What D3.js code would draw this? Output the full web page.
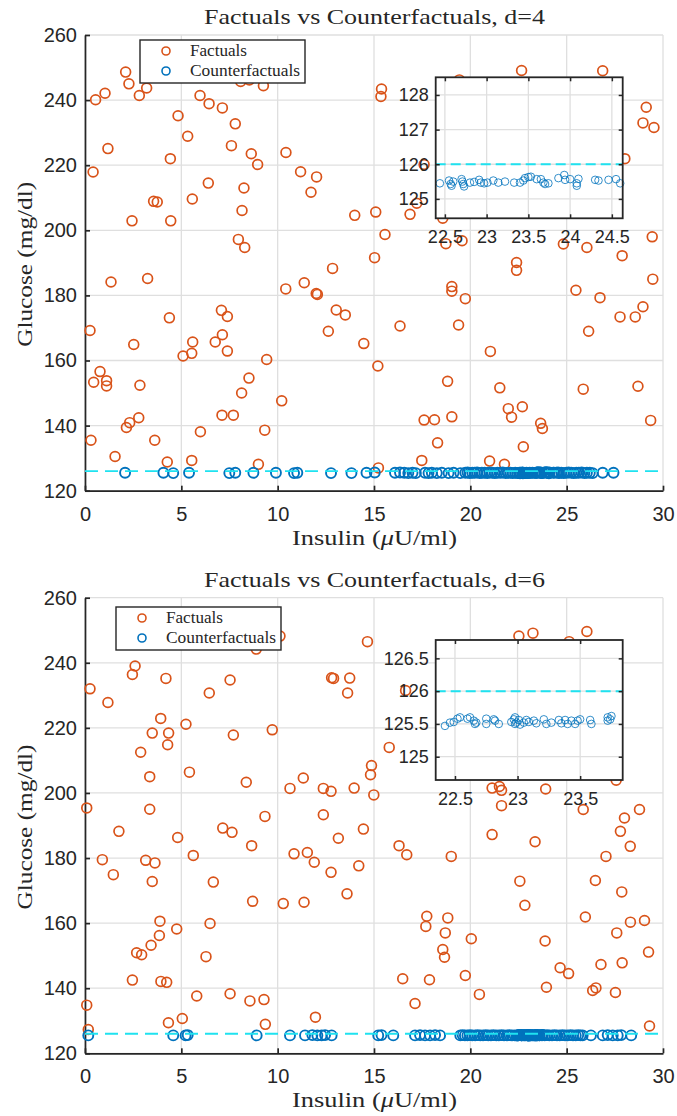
<!DOCTYPE html>
<html lang="en">
<head>
<meta charset="utf-8">
<title>Factuals vs Counterfactuals</title>
<script src="https://d3js.org/d3.v7.min.js"></script>
<style>
  body { margin: 0; background: #fff; }
  text { fill: #262626; }
</style>
</head>
<body>
<script>
// ---- data (x = insulin, y = glucose) ----

// d = 4
const factuals4 = [
  [2.11,248.6],[2.28,245.0],[0.55,240.1],[1.04,242.1],[2.82,241.4],[3.2,243.7],[5.97,241.4],[6.44,238.9],
  [7.13,237.6],[4.83,235.2],[7.80,232.7],[5.33,228.9],[7.6,226.0],[8.63,223.5],[8.96,220.2],[10.43,223.9],
  [1.19,225.1],[0.42,217.9],[4.43,222.0],[11.19,218.0],[12.02,216.4],[11.73,211.7],[6.4,214.5],[8.25,213.0],
  [3.56,208.9],[3.75,208.7],[5.57,209.6],[2.44,202.9],[4.45,202.9],[8.15,206.1],[7.96,197.2],[8.29,194.7],
  [12.85,188.3],[8.08,245.7],[8.53,246.2],[9.26,244.4],
  [1.35,184.1],[3.25,185.2],[0.26,169.2],[4.38,173.1],[2.53,164.9],[5.09,161.4],[5.54,162.2],[5.59,165.7],
  [6.76,165.7],[7.08,175.4],[7.39,173.5],[7.13,167.9],[7.39,162.9],[0.45,153.3],[0.78,156.6],[1.12,153.8],
  [1.12,152.2],[2.85,152.4],[8.51,154.6],[8.13,150.0],[9.43,160.3],[10.21,147.6],[0.31,135.5],[2.15,139.4],
  [2.32,140.9],[2.79,142.4],[3.62,135.5],[1.56,130.5],[4.27,128.8],[5.54,129.3],[5.99,138.1],[7.11,143.2],
  [7.7,143.2],[9.33,138.6],[9.0,128.1],[10.42,182.0],[11.38,183.9],[12.0,180.6],[12.06,180.3],[12.63,169.0],
  [13.04,175.5],[13.51,174.0],
  [22.66,249.1],[26.87,249.0],[19.43,246.2],[15.39,243.4],[15.36,241.1],[29.13,237.8],[28.96,233.0],[29.53,231.6],
  [28.02,222.0],[17.6,220.2],[14.0,204.6],[15.09,205.6],[16.87,204.9],[17.22,208.3],[18.57,203.7],[15.57,198.7],
  [18.73,195.9],[19.57,196.8],[24.83,195.8],[26.05,194.7],[27.88,192.2],[29.44,198.0],[15.03,191.6],[22.4,190.1],
  [22.4,187.7],[29.47,185.0],
  [19.04,182.7],[19.04,181.3],[19.74,179.0],[25.48,181.6],[26.73,179.3],[16.35,170.6],[19.39,170.9],[27.77,173.4],
  [28.56,173.4],[28.96,176.5],[26.14,169.0],[14.47,165.2],[21.04,162.8],[15.2,158.3],[18.82,153.6],[21.53,151.6],
  [25.86,151.2],[28.7,152.1],[21.97,145.2],[22.7,145.8],[22.14,142.6],[17.6,141.7],[18.14,141.8],[19.04,142.7],
  [23.65,140.7],[23.74,139.1],[29.36,141.6],[18.3,134.7],[22.75,133.5],[17.48,129.3],[15.23,127.0],[21.0,129.1],
  [21.77,128.1]
];

const counterfactuals4 = [
  [2.08,125.5],[4.07,125.5],[4.58,125.4],[5.4,125.5],[7.49,125.4],[7.8,125.5],[8.74,125.5],[9.91,125.5],
  [10.85,125.4],[11.02,125.5],[12.77,125.4],[13.83,125.4],[14.61,125.5],[15.04,125.6],[16.09,125.5],[16.35,125.6],
  [16.57,125.5],[16.78,125.4],[17.0,125.5],[17.17,125.4],[17.65,125.5],[17.83,125.4],[18.0,125.5],[18.26,125.4],
  [18.52,125.5],[18.87,125.4],[19.13,125.5],[19.48,125.4],[19.74,125.5],[19.86,125.6],[19.97,125.4],[20.1,125.5],
  [20.22,125.5],[20.35,125.6],[20.49,125.4],[20.6,125.5],[20.74,125.5],[20.88,125.4],[21.0,125.6],[21.13,125.5],
  [21.27,125.4],[21.4,125.5],[21.56,125.5],[21.68,125.6],[21.83,125.4],[21.95,125.5],[22.08,125.5],[22.2,125.4],
  [22.33,125.5],
  [22.44,125.45],[22.55,125.53],[22.57,125.43],[22.6,125.5],[22.58,125.38],[22.7,125.57],[22.71,125.5],[22.72,125.43],
  [22.73,125.36],[22.8,125.47],[22.85,125.49],[22.91,125.55],[22.93,125.47],[22.97,125.45],[23.01,125.47],[23.08,125.53],
  [23.14,125.47],[23.22,125.5],[23.33,125.47],[23.4,125.47],[23.44,125.53],[23.46,125.6],[23.5,125.63],[23.53,125.64],
  [23.6,125.57],[23.65,125.57],[23.68,125.47],[23.7,125.43],[23.74,125.45],[23.86,125.6],[23.93,125.69],[23.94,125.55],
  [24.0,125.57],[24.08,125.45],[24.1,125.58],[24.08,125.38],[24.3,125.55],[24.34,125.53],[24.46,125.55],[24.55,125.57],
  [24.6,125.45],
  [24.72,125.5],[24.85,125.4],[24.98,125.5],[25.1,125.6],[25.24,125.5],[25.37,125.4],[25.5,125.5],[25.63,125.5],
  [25.78,125.6],[25.92,125.4],[26.05,125.5],[26.2,125.5],[26.35,125.4],[26.87,125.5],[27.43,125.5]
];

// d = 6
const factuals6 = [
  [0.09,195.4],[0.26,232.0],[1.19,227.8],[2.46,236.4],[2.6,239.0],[4.2,235.2],[6.45,230.7],[7.53,234.7],
  [3.93,222.9],[3.49,218.4],[4.34,218.4],[4.29,214.8],[5.24,221.1],[7.7,217.8],[9.72,219.4],[2.89,212.5],
  [3.36,205.0],[5.42,206.4],[8.37,203.3],[10.64,201.4],[11.33,204.6],[12.37,201.4],[12.77,200.5],[12.37,193.3],
  [3.36,195.0],[9.34,192.8],[1.76,188.2],[7.15,189.2],[7.63,187.9],[4.81,186.3],[8.89,244.2],[10.12,248.2],
  [12.8,235.4],[12.9,235.2],
  [8.65,183.8],[0.9,179.5],[3.15,179.3],[3.63,178.5],[5.62,180.8],[1.47,174.9],[3.49,172.8],[6.66,172.6],
  [8.7,166.7],[10.29,166.0],[11.37,166.4],[10.85,181.3],[11.54,181.7],[11.9,178.7],[12.77,175.6],[13.15,186.1],
  [3.89,160.6],[3.86,156.2],[3.43,153.2],[2.68,150.9],[2.94,150.3],[4.76,158.2],[6.49,159.9],[6.28,149.7],
  [2.46,142.5],[3.94,142.1],[4.24,141.8],[0.09,134.8],[5.8,137.6],[7.53,138.3],[8.56,136.1],[9.29,136.5],
  [4.33,129.4],[5.05,130.7],[9.36,128.9],[11.96,131.1],[0.17,127.3],
  [14.66,246.5],[22.52,248.2],[23.25,249.1],[26.05,249.6],[25.13,246.5],[13.74,235.3],[13.63,230.7],[16.64,231.5],
  [15.79,214.0],[14.87,208.4],[14.82,205.6],[13.97,201.5],[14.99,199.4],[21.13,201.5],[21.51,202.0],[21.62,200.8],
  [21.62,196.1],[23.91,201.2],[25.86,194.9],[27.57,203.9],[28.0,192.3],[28.78,194.9],[27.79,188.2],[14.45,188.9],
  [21.13,187.2],[23.36,185.0],
  [28.3,183.6],[27.04,180.5],[16.3,183.8],[16.7,181.0],[19.01,180.5],[14.21,177.6],[13.6,169.0],[22.57,172.9],
  [26.49,173.1],[27.86,169.6],[22.83,165.5],[17.74,162.1],[17.69,159.0],[18.83,161.6],[18.7,157.0],[18.57,151.9],
  [18.66,149.5],[20.05,155.2],[25.97,161.9],[28.31,160.3],[29.04,160.8],[27.6,157.0],[29.25,151.1],[23.88,154.5],
  [26.78,147.3],[27.88,147.8],[16.49,142.9],[17.88,142.6],[19.74,143.9],[24.66,146.3],[25.1,144.5],[20.47,138.1],
  [23.95,140.3],[17.13,135.3],[26.35,139.3],[26.52,140.1],[27.53,138.7],[29.3,128.4]
];

const counterfactuals6 = [
  [0.17,125.5],[4.58,125.5],[5.22,125.5],[5.33,125.6],[8.91,125.5],[10.64,125.5],[11.42,125.5],[11.8,125.6],
  [12.06,125.5],[12.28,125.5],[12.46,125.6],[12.8,125.5],[15.22,125.5],[15.39,125.6],[16.0,125.5],[17.13,125.5],
  [17.39,125.6],[17.65,125.5],[17.91,125.5],[18.17,125.6],[18.43,125.5],[19.48,125.5],[19.6,125.6],[19.72,125.5],
  [19.85,125.5],[19.98,125.6],[20.1,125.5],[20.25,125.5],[20.38,125.6],[20.52,125.5],[20.66,125.5],[20.8,125.6],
  [20.93,125.5],[21.07,125.5],[21.2,125.6],[21.35,125.5],[21.48,125.5],[21.62,125.6],[21.75,125.5],[21.9,125.5],
  [22.03,125.6],[22.17,125.5],[22.3,125.5],
  [22.42,125.47],[22.46,125.52],[22.49,125.53],[22.52,125.58],[22.54,125.6],[22.6,125.58],[22.62,125.6],[22.65,125.55],
  [22.67,125.52],[22.66,125.5],[22.75,125.58],[22.75,125.5],[22.81,125.57],[22.82,125.55],[22.85,125.5],[22.95,125.53],
  [22.97,125.57],[22.98,125.6],[22.98,125.5],[22.99,125.52],[23.01,125.56],[23.02,125.49],[23.05,125.52],[23.07,125.56],
  [23.09,125.53],[23.13,125.55],[23.15,125.51],[23.21,125.57],[23.23,125.5],[23.27,125.52],[23.33,125.56],[23.35,125.51],
  [23.38,125.56],[23.4,125.5],[23.43,125.55],[23.46,125.5],[23.48,125.55],[23.5,125.57],[23.58,125.56],[23.59,125.5],
  [23.72,125.55],[23.72,125.6],[23.75,125.62],[23.74,125.57],
  [23.86,125.5],[23.98,125.6],[24.1,125.5],[24.24,125.5],[24.37,125.6],[24.5,125.5],[24.64,125.5],[24.78,125.6],
  [24.92,125.5],[25.05,125.5],[25.2,125.6],[25.33,125.5],[25.47,125.5],[25.6,125.6],[25.72,125.5],[25.83,125.5],
  [26.26,125.5],[26.87,125.5],[27.13,125.6],[27.39,125.5],[27.65,125.5],[27.83,125.6],[28.35,125.5]
];

const xTicks = [0, 5, 10, 15, 20, 25, 30];
const yTicks = [120, 140, 160, 180, 200, 220, 240, 260];
const insetXTicks4 = [22.5, 23, 23.5, 24, 24.5];
const insetYTicks4 = [125, 126, 127, 128];
const insetXTicks6 = [22.5, 23, 23.5];
const insetYTicks6 = [125, 125.5, 126, 126.5];
const refGlucose = 126;

const orange = "#D95319", blue = "#0072BD", cyan = "#1fe2f0", grid = "#dfdfdf", ink = "#262626";
const serif = "'Liberation Serif', 'Times New Roman', serif";
const sans = "'Liberation Sans', Arial, Helvetica, sans-serif";

const svg = d3.select("body").append("svg")
    .attr("width", 677)
    .attr("height", 1116);

function drawPanel(p) {
    const x = d3.scaleLinear().domain([0, 30]).range([85, 663]);
    const y = d3.scaleLinear().domain([120, 260]).range([p.bottom, p.top]);
    const g = svg.append("g");

    // grid
    g.selectAll(".gx").data(xTicks).join("line")
        .attr("x1", d => x(d)).attr("x2", d => x(d))
        .attr("y1", p.top).attr("y2", p.bottom)
        .attr("stroke", grid).attr("stroke-width", 1.3);
    g.selectAll(".gy").data(yTicks).join("line")
        .attr("x1", 85).attr("x2", 663)
        .attr("y1", d => y(d)).attr("y2", d => y(d))
        .attr("stroke", grid).attr("stroke-width", 1.3);

    // axes, ticks point inward like matlab
    const xAxis = g.append("g").attr("transform", "translate(0," + p.bottom + ")")
        .call(d3.axisBottom(x).tickValues(xTicks).tickSize(-5).tickSizeOuter(0).tickPadding(16));
    const yAxis = g.append("g").attr("transform", "translate(85,0)")
        .call(d3.axisLeft(y).tickValues(yTicks).tickSize(-5).tickSizeOuter(0).tickPadding(8));
    [xAxis, yAxis].forEach(a => {
        a.selectAll("path, line").attr("stroke", ink).attr("stroke-width", 1.7);
        a.selectAll("text").style("font-family", sans).style("font-size", "20px").attr("fill", ink);
    });

    // points
    g.append("g").selectAll("circle").data(p.factuals).join("circle")
        .attr("cx", d => x(d[0])).attr("cy", d => y(d[1])).attr("r", 4.9)
        .attr("fill", "none").attr("stroke", orange).attr("stroke-width", 1.7);
    g.append("g").selectAll("circle").data(p.counterfactuals).join("circle")
        .attr("cx", d => x(d[0])).attr("cy", d => y(d[1])).attr("r", 5)
        .attr("fill", "none").attr("stroke", blue).attr("stroke-width", 1.9);

    g.append("line")
        .attr("x1", x(0)).attr("x2", x(30))
        .attr("y1", y(refGlucose)).attr("y2", y(refGlucose))
        .attr("stroke", cyan).attr("stroke-width", 1.8).attr("stroke-dasharray", "13,7");

    // labels
    g.append("text")
        .attr("x", 374.5).attr("y", p.top - 11)
        .attr("text-anchor", "middle")
        .attr("textLength", 341).attr("lengthAdjust", "spacingAndGlyphs")
        .style("font-family", serif).style("font-size", "22px")
        .text(p.title);

    const xl = g.append("text")
        .attr("x", 374.5).attr("y", p.bottom + 54)
        .attr("text-anchor", "middle")
        .attr("textLength", 165).attr("lengthAdjust", "spacingAndGlyphs")
        .style("font-family", serif).style("font-size", "21px");
    xl.append("tspan").text("Insulin (");
    xl.append("tspan").style("font-style", "italic").text("\u03bc");
    xl.append("tspan").text("U/ml)");

    g.append("text")
        .attr("transform", "translate(32," + ((p.top + p.bottom) / 2 + 1.5) + ") rotate(-90)")
        .attr("text-anchor", "middle")
        .attr("textLength", 165).attr("lengthAdjust", "spacingAndGlyphs")
        .style("font-family", serif).style("font-size", "21px")
        .text("Glucose (mg/dl)");

    // legend
    const lg = g.append("g").attr("transform", "translate(" + p.legend[0] + "," + p.legend[1] + ")");
    lg.append("rect").attr("width", 165).attr("height", 43)
        .attr("fill", "#fff").attr("stroke", ink).attr("stroke-width", 1.4);
    [["Factuals", orange, 57], ["Counterfactuals", blue, 110]].forEach((e, i) => {
        lg.append("circle").attr("cx", 26).attr("cy", 11 + i * 20).attr("r", 4)
            .attr("fill", "none").attr("stroke", e[1]).attr("stroke-width", 1.6);
        lg.append("text").attr("x", 50).attr("y", 16 + i * 20)
            .attr("textLength", e[2]).attr("lengthAdjust", "spacingAndGlyphs")
            .style("font-family", serif).style("font-size", "16px")
            .text(e[0]);
    });

    // zoomed inset
    const ins = p.inset;
    const ix = d3.scaleLinear().domain(ins.xDomain).range([ins.left, ins.right]);
    const iy = d3.scaleLinear().domain(ins.yDomain).range([ins.bottom, ins.top]);
    const ig = g.append("g");
    ig.append("rect")
        .attr("x", ins.left).attr("y", ins.top)
        .attr("width", ins.right - ins.left).attr("height", ins.bottom - ins.top)
        .attr("fill", "#fff");
    ig.selectAll(".igx").data(ins.xTicks).join("line")
        .attr("x1", d => ix(d)).attr("x2", d => ix(d))
        .attr("y1", ins.top).attr("y2", ins.bottom)
        .attr("stroke", grid).attr("stroke-width", 1.3);
    ig.selectAll(".igy").data(ins.yTicks).join("line")
        .attr("x1", ins.left).attr("x2", ins.right)
        .attr("y1", d => iy(d)).attr("y2", d => iy(d))
        .attr("stroke", grid).attr("stroke-width", 1.3);

    const inside = p.counterfactuals.filter(d =>
        d[0] >= ins.xDomain[0] && d[0] <= ins.xDomain[1] && d[1] >= ins.yDomain[0] && d[1] <= ins.yDomain[1]);
    ig.append("g").selectAll("circle").data(inside).join("circle")
        .attr("cx", d => ix(d[0])).attr("cy", d => iy(d[1])).attr("r", 3.8)
        .attr("fill", "none").attr("stroke", blue).attr("stroke-width", 0.8);
    ig.append("line")
        .attr("x1", ins.left).attr("x2", ins.right)
        .attr("y1", iy(refGlucose)).attr("y2", iy(refGlucose))
        .attr("stroke", cyan).attr("stroke-width", 2).attr("stroke-dasharray", "10,5");

    const ib = ig.append("g").attr("transform", "translate(0," + ins.bottom + ")")
        .call(d3.axisBottom(ix).tickValues(ins.xTicks).tickFormat(d => String(d)).tickSize(-4).tickSizeOuter(0).tickPadding(12));
    const it = ig.append("g").attr("transform", "translate(0," + ins.top + ")")
        .call(d3.axisTop(ix).tickValues(ins.xTicks).tickFormat("").tickSize(-4).tickSizeOuter(0));
    const il = ig.append("g").attr("transform", "translate(" + ins.left + ",0)")
        .call(d3.axisLeft(iy).tickValues(ins.yTicks).tickFormat(d => String(d)).tickSize(-4).tickSizeOuter(0).tickPadding(7));
    const ir = ig.append("g").attr("transform", "translate(" + ins.right + ",0)")
        .call(d3.axisRight(iy).tickValues(ins.yTicks).tickFormat("").tickSize(-4).tickSizeOuter(0));
    [ib, it, il, ir].forEach(a => {
        a.select(".domain").remove();
        a.selectAll("line").attr("stroke", ink).attr("stroke-width", 1.5);
        a.selectAll("text").style("font-family", sans).style("font-size", "18px").attr("fill", ink);
    });
    ig.append("rect")
        .attr("x", ins.left).attr("y", ins.top)
        .attr("width", ins.right - ins.left).attr("height", ins.bottom - ins.top)
        .attr("fill", "none").attr("stroke", ink).attr("stroke-width", 1.8);
}

drawPanel({
    title: "Factuals vs Counterfactuals, d=4",
    top: 35, bottom: 490.7,
    factuals: factuals4, counterfactuals: counterfactuals4,
    legend: [140, 40],
    inset: {
        left: 435.7, right: 622.7, top: 77.3, bottom: 218.3,
        xDomain: [22.39, 24.63], yDomain: [124.44, 128.51],
        xTicks: insetXTicks4, yTicks: insetYTicks4
    }
});

drawPanel({
    title: "Factuals vs Counterfactuals, d=6",
    top: 597.7, bottom: 1053.3,
    factuals: factuals6, counterfactuals: counterfactuals6,
    legend: [116, 607],
    inset: {
        left: 435.7, right: 622.7, top: 640, bottom: 780,
        xDomain: [22.346, 23.84], yDomain: [124.645, 126.78],
        xTicks: insetXTicks6, yTicks: insetYTicks6
    }
});
</script>
</body>
</html>
